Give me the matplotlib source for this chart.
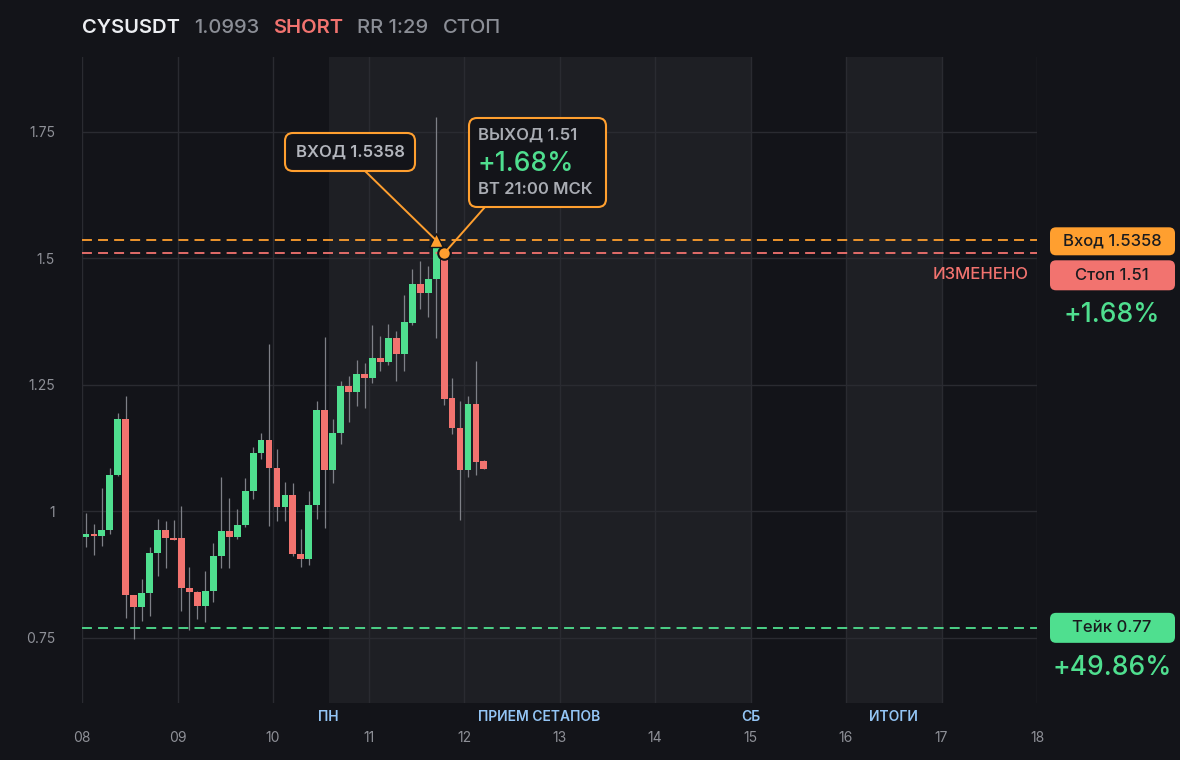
"""Candle chart of a short trade setup with entry / stop / take levels."""

import matplotlib

matplotlib.use("Agg")
import matplotlib.pyplot as plt
import matplotlib.transforms as mtransforms
from matplotlib.lines import Line2D
from matplotlib.patches import FancyBboxPatch
import numpy as np

plt.rcParams["font.family"] = ["Inter", "DejaVu Sans"]

# --- data ---------------------------------------------------------------
START_DAY = 8.0
CANDLE_STEP = 1.0 / 12  # 2h candles

opens = [0.950, 0.956, 0.951, 0.963, 1.073, 1.182, 0.834, 0.811, 0.838, 0.917,
         0.964, 0.948, 0.947, 0.848, 0.840, 0.814, 0.842, 0.911, 0.961, 0.950,
         0.973, 1.041, 1.115, 1.142, 1.085, 1.008, 1.032, 0.915, 0.907, 1.012,
         1.200, 1.081, 1.155, 1.247, 1.236, 1.271, 1.264, 1.304, 1.295, 1.342,
         1.312, 1.373, 1.450, 1.432, 1.459, 1.510, 1.224, 1.165, 1.081, 1.213,
         1.099]
highs = [0.996, 0.976, 1.047, 1.085, 1.194, 1.229, 0.834, 0.866, 0.929, 0.986,
         0.982, 0.984, 1.010, 0.891, 0.842, 0.883, 0.937, 1.069, 1.026, 1.004,
         1.067, 1.128, 1.156, 1.330, 1.123, 1.059, 1.057, 0.966, 1.041, 1.219,
         1.344, 1.182, 1.257, 1.267, 1.300, 1.294, 1.368, 1.346, 1.370, 1.356,
         1.427, 1.480, 1.494, 1.486, 1.779, 1.525, 1.263, 1.219, 1.229, 1.298,
         1.101]
lows = [0.929, 0.913, 0.931, 0.955, 1.071, 0.790, 0.747, 0.783, 0.794, 0.872,
        0.889, 0.944, 0.804, 0.765, 0.788, 0.781, 0.822, 0.889, 0.889, 0.945,
        0.970, 1.024, 1.103, 0.972, 0.982, 0.982, 0.911, 0.891, 0.895, 0.986,
        0.968, 1.057, 1.134, 1.176, 1.209, 1.204, 1.253, 1.277, 1.289, 1.257,
        1.277, 1.368, 1.401, 1.385, 1.342, 1.211, 1.154, 0.984, 1.069, 1.073,
        1.083]
closes = [0.956, 0.951, 0.964, 1.073, 1.182, 0.834, 0.811, 0.838, 0.917, 0.964,
          0.947, 0.944, 0.848, 0.840, 0.814, 0.842, 0.911, 0.961, 0.950, 0.974,
          1.041, 1.115, 1.142, 1.085, 1.008, 1.032, 0.915, 0.907, 1.012, 1.200,
          1.081, 1.156, 1.247, 1.236, 1.271, 1.264, 1.304, 1.295, 1.342, 1.312,
          1.374, 1.450, 1.432, 1.460, 1.520, 1.223, 1.164, 1.081, 1.213, 1.097,
          1.084]

entry_price = 1.5358
stop_price = 1.51
take_price = 0.77
entry_idx = 44  # candle where entry happened
exit_idx = 45

day_ticks = [8, 9, 10, 11, 12, 13, 14, 15, 16, 17, 18]
day_labels = ["08", "09", "10", "11", "12", "13", "14", "15", "16", "17", "18"]
price_ticks = [0.75, 1.0, 1.25, 1.5, 1.75]
price_labels = ["0.75", "1", "1.25", "1.5", "1.75"]

sessions = [(10.583, 15.0), (16.0, 17.0)]
session_labels = [("ПН", 10.583), ("ПРИЕМ СЕТАПОВ", 12.79), ("СБ", 15.0), ("ИТОГИ", 16.5)]

header = [("CYSUSDT", "#eceef2", "semibold"), ("1.0993", "#8b8e96", "medium"),
          ("SHORT", "#f2736f", "semibold"), ("RR 1:29", "#8b8e96", "medium"),
          ("СТОП", "#8b8e96", "medium")]

# --- style --------------------------------------------------------------
BG = "#131419"
BAND = "#1e1f24"
GRID = "#2a2b31"
GREEN = "#4fdf8f"
RED = "#f2736f"
ORANGE = "#ff9f2f"
WICK = "#7e8087"
TICK = "#8e9097"
BLUE = "#93c5f5"

W, H = 1180, 760
fig = plt.figure(figsize=(W / 100, H / 100), dpi=100, facecolor=BG)
ax = fig.add_axes([82 / W, 1 - 703 / H, (1037 - 82) / W, (703 - 57) / H])
ax.set_facecolor(BG)
ax.set_xlim(8, 18)
ax.set_ylim(0.6215, 1.898)
for s in ax.spines.values():
    s.set_visible(False)

for a, b in sessions:
    ax.axvspan(a, b, color=BAND, zorder=0, lw=0)

ax.set_xticks(day_ticks)
ax.set_xticklabels(day_labels)
ax.set_yticks(price_ticks)
ax.set_yticklabels(price_labels)
ax.tick_params(colors=TICK, labelsize=10, length=0)
ax.tick_params(axis="y", pad=19.5)
ax.tick_params(axis="x", pad=20.5)
ax.grid(True, color=GRID, lw=1, zorder=0.5)
ax.set_axisbelow(True)

# candles
x = START_DAY + (np.arange(len(opens)) + 0.5) * CANDLE_STEP
o = np.array(opens)
c = np.array(closes)
up = c >= o
ax.vlines(x, lows, highs, color=WICK, lw=0.9, zorder=2)
bottoms = np.minimum(o, c)
heights = np.maximum(np.abs(c - o), 0.004)
ax.bar(x, heights, bottom=bottoms, width=CANDLE_STEP * 0.86,
       color=np.where(up, GREEN, RED), zorder=3, lw=0)

# levels
dash = (0, (5.5, 3.4))
ax.axhline(entry_price, color=ORANGE, lw=1.3, ls=dash, zorder=4)
ax.axhline(stop_price, color=RED, lw=1.3, ls=dash, zorder=4)
ax.axhline(take_price, color=GREEN, lw=1.3, ls=dash, zorder=4)

ax.plot(x[entry_idx], entry_price, marker="^", ms=10, color=ORANGE,
        mec=BG, mew=1.0, zorder=6)
ax.plot(x[exit_idx], stop_price, marker="o", ms=9, color=ORANGE,
        mec=BG, mew=1.5, zorder=6)

# labels under sessions
for txt, xpos in session_labels:
    ax.text(xpos, -0.022, txt, transform=ax.get_xaxis_transform(),
            ha="center", va="center", color=BLUE, fontsize=10,
            fontweight="semibold")

# --- overlays in pixel space (y measured from top) ----------------------
ident = mtransforms.IdentityTransform()


def px(xp, yp):
    return xp, H - yp


def box(x0, y0, x1, y1, face, edge=None, lw=0, r=7):
    p = FancyBboxPatch(px(x0, y1), x1 - x0, y1 - y0,
                       boxstyle="round,pad=0,rounding_size=%d" % r,
                       transform=ident, facecolor=face,
                       edgecolor=edge if edge else face, lw=lw, zorder=10)
    fig.patches.append(p)


def label(xp, yp, txt, **kw):
    return fig.text(*px(xp, yp), txt, transform=ident, va="center", zorder=11, **kw)


# header chained left to right
renderer = fig.canvas.get_renderer()
hx = 82
for txt, col, wt in header:
    t = label(hx, 28, txt, ha="left", color=col, fontsize=14.5, fontweight=wt)
    bb = t.get_window_extent(renderer)
    hx = bb.x1 + 14

# callout lines from boxes to markers
ex, ey = ax.transData.transform((x[entry_idx], entry_price))
sx, sy = ax.transData.transform((x[exit_idx], stop_price))
fig.lines.append(Line2D([365, ex], [H - 171, ey], transform=ident,
                        color=ORANGE, lw=1.4, zorder=5))
fig.lines.append(Line2D([485, sx], [H - 207, sy], transform=ident,
                        color=ORANGE, lw=1.4, zorder=5))

box(285, 133, 415, 171, BG, ORANGE, 1.5, 8)
label(350, 152, "ВХОД 1.5358", ha="center", color="#b3b6bd", fontsize=12,
      fontweight="semibold")

box(469, 118, 606, 207, BG, ORANGE, 1.5, 8)
label(478, 135, "ВЫХОД 1.51", ha="left", color="#a9acb3", fontsize=12,
      fontweight="semibold")
label(477, 164, "+1.68%", ha="left", color=GREEN, fontsize=19,
      fontweight="medium")
label(478, 190, "ВТ 21:00 МСК", ha="left", color="#a9acb3", fontsize=12,
      fontweight="semibold")

# right side price tags
tag_cy = H - ey + 1
take_cy = H - ax.transData.transform((0, take_price))[1]
box(1050, tag_cy - 14, 1175, tag_cy + 14, ORANGE, r=6)
label(1112, tag_cy, "Вход 1.5358", ha="center", color="#1a1b1f", fontsize=12,
      fontweight="medium")
box(1050, tag_cy + 19, 1175, tag_cy + 49, RED, r=6)
label(1112, tag_cy + 34, "Стоп 1.51", ha="center", color="#1a1b1f", fontsize=12,
      fontweight="medium")
label(1112, tag_cy + 74, "+1.68%", ha="center", color=GREEN, fontsize=19,
      fontweight="medium")
label(1029, tag_cy + 33, "ИЗМЕНЕНО", ha="right", color=RED, fontsize=12,
      fontweight="medium")

box(1050, take_cy - 15, 1175, take_cy + 15, GREEN, r=6)
label(1112, take_cy, "Тейк 0.77", ha="center", color="#1a1b1f", fontsize=12,
      fontweight="medium")
label(1112, take_cy + 40, "+49.86%", ha="center", color=GREEN, fontsize=19,
      fontweight="medium")

fig.savefig("out.png", dpi=100, facecolor=BG)
